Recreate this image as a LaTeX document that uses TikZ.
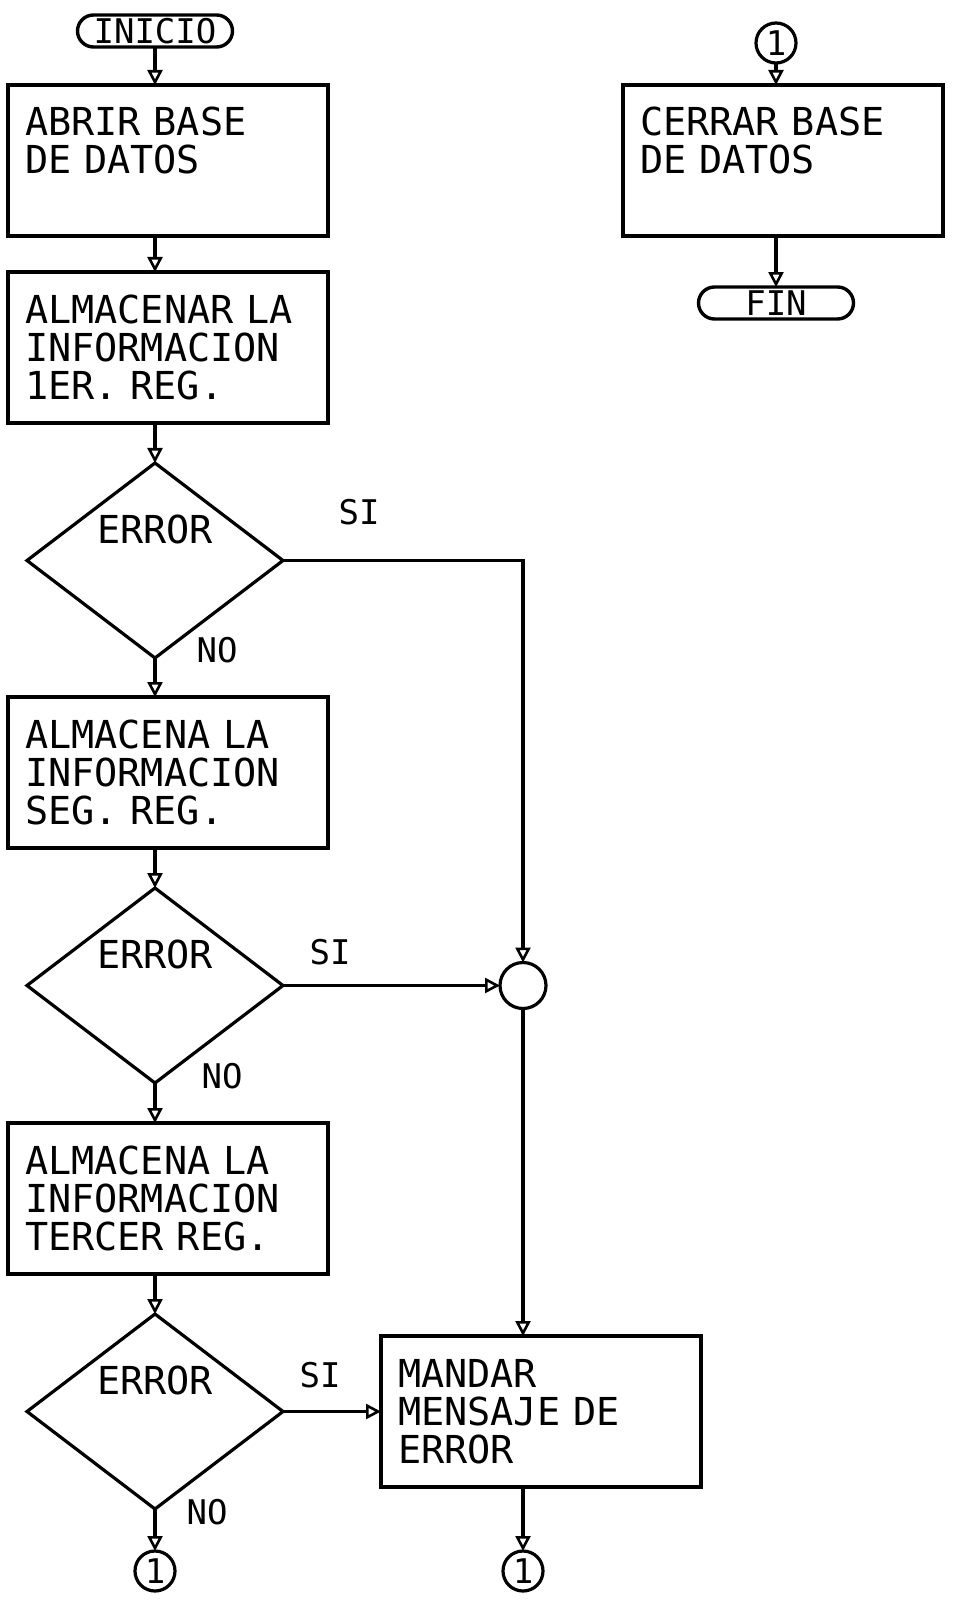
\documentclass[tikz,border=0pt]{standalone}
\usepackage{fontspec}
\newfontfamily\plotter{DejaVu Sans Mono}
\usetikzlibrary{arrows.meta, positioning, shapes.geometric, shapes.misc}

\newcommand{\fcfont}{\plotter\fontsize{38.5}{38}\selectfont}
\newcommand{\tagfont}{\plotter\fontsize{34}{34}\selectfont}

\begin{document}
\begin{tikzpicture}[
      x=1pt, y=-1pt,
      node distance=40pt,
      box/.style={draw, line width=3.6pt, outer sep=0pt, minimum width=320pt, text width=286pt, inner xsep=17pt, inner ysep=0pt, text height=51pt, text depth=100pt, align=left, font=\fcfont},
      decision/.style={diamond, draw, line width=3.2pt, outer sep=0pt, aspect=1.3, minimum width=256pt, minimum height=195pt, inner sep=0pt, text height=28pt, text depth=62pt, font=\fcfont},
      term/.style={rounded rectangle, draw, line width=3.4pt, outer sep=0pt, minimum width=155pt, minimum height=32pt, inner sep=0pt, font=\tagfont},
      conn/.style={circle, draw, line width=3.2pt, outer sep=0pt, minimum size=40pt, inner sep=0pt, font=\tagfont},
      junct/.style={circle, draw, line width=3.2pt, outer sep=0pt, minimum size=46pt, inner sep=0pt},
      tag/.style={inner sep=0pt, font=\tagfont},
      flow/.style={line width=3.2pt, -{Triangle[open, length=15pt, width=15pt, line width=2.6pt]}}
    ]
    \useasboundingbox (0,0) rectangle (953,1605);

    % left column
    \node[term] (inicio) at (155,31) {INICIO};
    \node[box, anchor=north west] (abrir) at (8,85) {ABRIR BASE\\DE DATOS};
    \node[box, below=36pt of abrir] (alm1) {ALMACENAR LA\\INFORMACION\\1ER. REG.};
    \node[decision, below=40pt of alm1, xshift=-13pt] (err1) {ERROR};
    \node[box, below=39pt of err1, xshift=13pt] (alm2) {ALMACENA LA\\INFORMACION\\SEG. REG.};
    \node[decision, below=40pt of alm2, xshift=-13pt] (err2) {ERROR};
    \node[box, below=40pt of err2, xshift=13pt] (alm3) {ALMACENA LA\\INFORMACION\\TERCER REG.};
    \node[decision, below=40pt of alm3, xshift=-13pt] (err3) {ERROR};
    \node[conn, below=42pt of err3] (fin1) {1};

    % error branch
    \node[junct, right=217pt of err2] (junc) {};
    \node[box, right=98pt of err3] (mandar) {MANDAR\\MENSAJE DE\\ERROR};
    \node[conn] (fin2) at (junc |- fin1) {1};

    % right column
    \node[box, right=295pt of abrir] (cerrar) {CERRAR BASE\\DE DATOS};
    \node[conn, above=22pt of cerrar, xshift=-7pt] (ini2) {1};
    \node[term, below=51pt of cerrar, xshift=-7pt] (fin) {FIN};

    \node[tag] (si1) at (359,512) {SI};
    \node[tag] (no1) at (217,650) {NO};
    \node[tag] (si2) at (330,952) {SI};
    \node[tag] (no2) at (222,1076) {NO};
    \node[tag] (si3) at (320,1375) {SI};
    \node[tag] (no3) at (207,1512) {NO};

    \draw[flow] (inicio) -- (abrir.north -| inicio);
    \draw[flow] (abrir.south -| inicio) -- (alm1.north -| inicio);
    \draw[flow] (alm1.south -| err1) -- (err1);
    \draw[flow] (err1) -- (alm2.north -| err1);
    \draw[flow] (alm2.south -| err2) -- (err2);
    \draw[flow] (err2) -- (alm3.north -| err2);
    \draw[flow] (alm3.south -| err3) -- (err3);
    \draw[flow] (err3) -- (fin1);

    \draw[flow] (err1.east) -| (junc);
    \draw[flow] (err2) -- (junc);
    \draw[flow] (junc) -- (mandar.north -| junc);
    \draw[flow] (err3) -- (mandar);
    \draw[flow] (mandar.south -| junc) -- (fin2);

    \draw[flow] (ini2) -- (cerrar.north -| ini2);
    \draw[flow] (cerrar.south -| ini2) -- (fin);
  \end{tikzpicture}
\end{document}
